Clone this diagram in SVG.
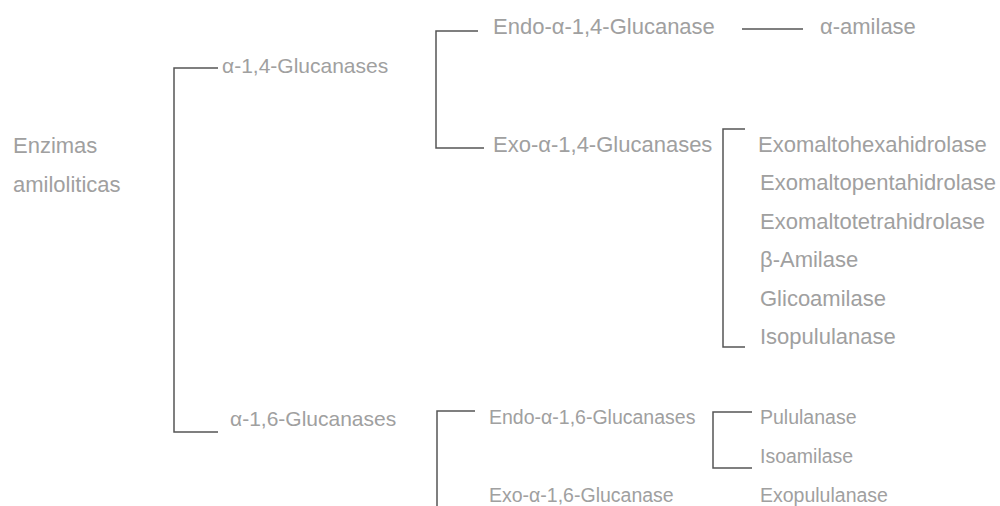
<svg xmlns="http://www.w3.org/2000/svg" width="1000" height="506" viewBox="0 0 1000 506">
<style>
text{font-family:"Liberation Sans",Arial,sans-serif;font-size:22px;fill:#a0a0a0}
text.m{font-size:21px}
text.s{font-size:19.5px}
.c path{fill:none;stroke:#555;stroke-width:1.5}
</style>
<rect width="1000" height="506" fill="#fff"/>
<g class="c" id="connectors">
<path d="M218,68 H174 V432 H218"/>
<path d="M478,31 H436 V148 H484"/>
<path d="M742,29 H803"/>
<path d="M745,129 H723 V347 H745"/>
<path d="M475,411 H437 V506"/>
<path d="M752,412 H713 V468 H752"/>
</g>
<g id="root"><text x="13" y="153">Enzimas</text><text x="13" y="192">amiloliticas</text></g>
<g id="a14"><text class="m" x="222" y="73">α-1,4-Glucanases</text></g>
<g id="a16"><text class="m" x="230" y="426">α-1,6-Glucanases</text></g>
<g id="endo14"><text x="493" y="34">Endo-α-1,4-Glucanase</text></g>
<g id="amilase"><text x="820" y="34">α-amilase</text></g>
<g id="exo14"><text x="493" y="152">Exo-α-1,4-Glucanases</text></g>
<g id="hexa"><text x="758" y="152">Exomaltohexahidrolase</text></g>
<g id="penta"><text x="760" y="190">Exomaltopentahidrolase</text></g>
<g id="tetra"><text x="760" y="229">Exomaltotetrahidrolase</text></g>
<g id="beta"><text x="760" y="267">β-Amilase</text></g>
<g id="glico"><text x="760" y="306">Glicoamilase</text></g>
<g id="isopul"><text x="760" y="344">Isopululanase</text></g>
<g id="endo16"><text class="s" x="489" y="424">Endo-α-1,6-Glucanases</text></g>
<g id="exo16"><text class="s" x="489" y="502">Exo-α-1,6-Glucanase</text></g>
<g id="pulul"><text class="s" x="760" y="424">Pululanase</text></g>
<g id="isoam"><text class="s" x="760" y="463">Isoamilase</text></g>
<g id="exopul"><text class="s" x="760" y="502">Exopululanase</text></g>
</svg>
